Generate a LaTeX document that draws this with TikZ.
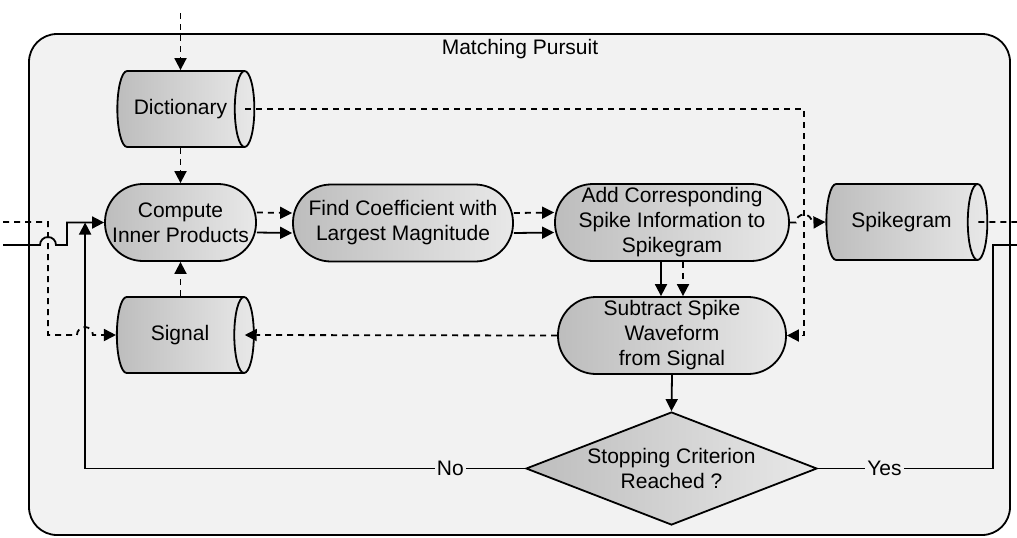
\documentclass[tikz,border=0pt]{standalone}
\usepackage{fontspec}
\setmainfont{Liberation Sans}
\usetikzlibrary{arrows.meta,shapes.geometric}
\definecolor{mpback}{HTML}{F2F2F2}
\definecolor{shadeleft}{HTML}{BDBDBD}
\definecolor{shaderight}{HTML}{E8E8E8}
\tikzstyle{process}=[draw,rounded corners=19pt,minimum height=38.5pt,inner sep=0pt,align=center,left color=shadeleft,right color=shaderight]
\tikzstyle{store}=[draw,cylinder,aspect=1,minimum width=38pt,inner sep=0pt,left color=shadeleft,right color=shaderight]
\tikzstyle{decision}=[draw,diamond,aspect=2.58,minimum width=145.5pt,minimum height=56.5pt,inner sep=0pt,align=center,left color=shadeleft,right color=shaderight]
\tikzstyle{undirected}=[draw]
\tikzstyle{flow}=[draw,-{Triangle[length=6pt,width=6pt]}]
\tikzstyle{dataflow}=[flow,dash pattern=on 3pt off 2.5pt]
\tikzstyle{answer}=[fill=mpback,inner sep=1pt]

\begin{document}
\begin{tikzpicture}[x=0.5pt,y=-0.5pt,line width=0.9pt,font=\fontsize{10.5}{12.5}\selectfont]
    \useasboundingbox (0,0) rectangle (1017,537);
    % Draw the outer block first
    \draw[fill=mpback,rounded corners=14pt] (29,34) rectangle (1010,535);
    \node (title) at (520,49) {Matching Pursuit};

    % Then the processes and the stores
    \foreach \pos/ \name/ \boxw/ \txt in {{(180.5,222.5)/comp/75.5pt/{Compute\\Inner Products}},
            {(403,223)/find/110pt/{Find Coefficient with\\Largest Magnitude}},
            {(672,222.5)/add/117pt/{Add Corresponding\\Spike Information to\\Spikegram}},
            {(672,335.5)/sub/114pt/{Subtract Spike\\Waveform\\from Signal}}}
        \node[process,minimum width=\boxw] (\name) at \pos {\txt};

    % (a store's length is its minimum height)
    \foreach \pos/ \name/ \boxw/ \txt in {{(180.5,109)/dict/68.5pt/Dictionary},
            {(180,335)/sig/68.5pt/Signal},{(901.5,222)/spike/80.5pt/Spikegram}}
        \node[store,minimum height=\boxw] (\name) at \pos {\txt};

    \node[decision] (dec) at (671.5,468.5) {Stopping Criterion\\Reached ?};

    \coordinate (dictin) at (180.5,13);
    \coordinate (solidin) at (3,245);
    \coordinate (dashin) at (3,222);
    \coordinate (solidout) at (1017,245);
    \coordinate (dashout) at (1017,222);

    % Dictionary and signal feed the inner products
    \path[dataflow] (dictin) -- (dictin |- dict.north);
    \path[dataflow] (dict.south -| comp.north) -- (comp.north);
    \path[dataflow] (sig.north -| comp.south) -- (comp.south);

    % Two lanes between the processes
    \foreach \source/ \dest in {comp/find, find/add}{
        \path[dataflow] ([yshift=5pt]\source.east) -- ([yshift=5pt]\dest.west);
        \path[flow] ([yshift=-5pt]\source.east) -- ([yshift=-5pt]\dest.west);
    }
    \path[flow] ([xshift=-5.5pt]add.south) -- ([xshift=-5.5pt]sub.north);
    \path[dataflow] ([xshift=5.5pt]add.south) -- ([xshift=5.5pt]sub.north);
    \path[dataflow] (add.east) -- ++(6,0) arc[start angle=180,end angle=0,radius=4pt] -- (spike.west);
    \path[dataflow] ([xshift=-5pt]dict.east) -| ([xshift=8.5pt]sub.east) -- (sub.east);
    \path[dataflow] (sub.west) -- ([xshift=-5pt]sig.east);
    \path[flow] (sub.south) -- (dec.north);

    % Inputs and outputs
    \path[flow] (solidin) -- ++(37,0) arc[start angle=180,end angle=0,radius=4pt] -- ++(11,0) |- (comp.west);
    \path[dataflow] (dashin) -- ++(45,0) |- ([xshift=-19.5pt]sig.west) arc[start angle=180,end angle=0,radius=4pt] -- (sig.west);
    \path[dataflow,-] ([xshift=-5pt]spike.east) -- (dashout);

    % Loop back or stop
    \path[flow] (dec.west) -| node[answer,pos=0.085] {No} ([xshift=-9.5pt]comp.west);
    \path[undirected] (dec.east) -| node[answer,pos=0.19] {Yes} ([xshift=-12pt]solidout) -- (solidout);
\end{tikzpicture}
\end{document}
